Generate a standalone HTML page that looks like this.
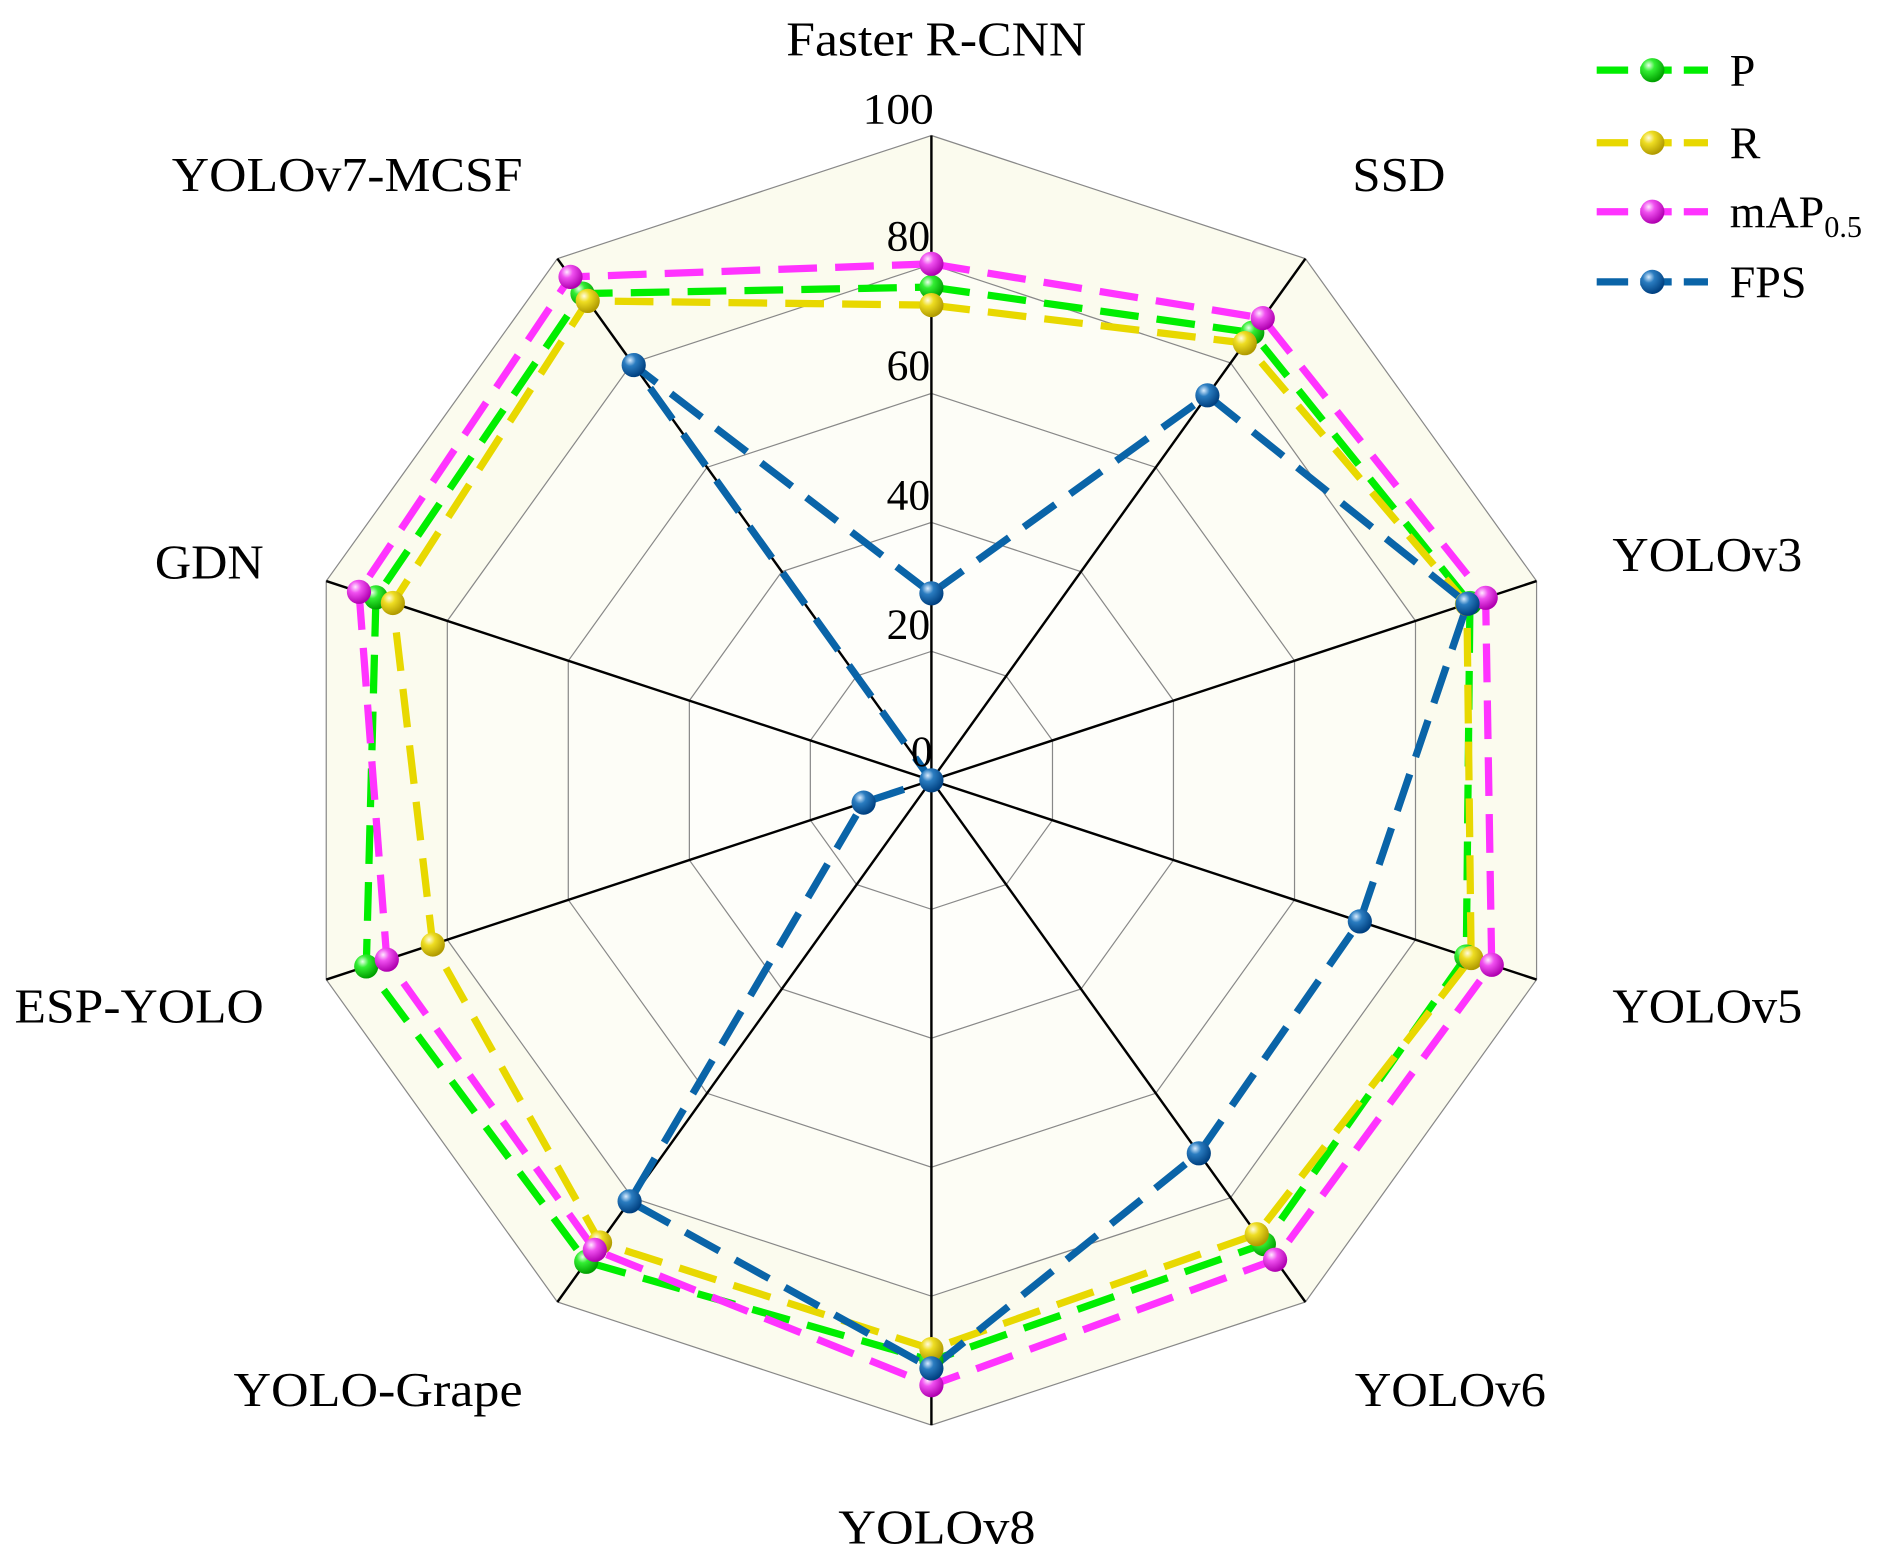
<!DOCTYPE html>
<html><head><meta charset="utf-8"><style>
html,body{margin:0;padding:0;background:#fff;}
svg{display:block;}
text{font-family:"Liberation Serif",serif;fill:#000;}
</style></head><body>
<svg id="s" width="1887" height="1557" viewBox="0 0 1560 1287" preserveAspectRatio="none" xmlns="http://www.w3.org/2000/svg">
<defs>
<radialGradient id="gP" cx="35%" cy="30%" r="70%"><stop offset="0" stop-color="#eaffea"/><stop offset="0.35" stop-color="#33ee33"/><stop offset="1" stop-color="#00a000"/></radialGradient>
<radialGradient id="gR" cx="35%" cy="30%" r="70%"><stop offset="0" stop-color="#fffbe0"/><stop offset="0.35" stop-color="#eedd22"/><stop offset="1" stop-color="#b09a00"/></radialGradient>
<radialGradient id="gM" cx="35%" cy="30%" r="70%"><stop offset="0" stop-color="#ffe8ff"/><stop offset="0.35" stop-color="#f050f0"/><stop offset="1" stop-color="#b000b0"/></radialGradient>
<radialGradient id="gF" cx="35%" cy="30%" r="70%"><stop offset="0" stop-color="#d8ecff"/><stop offset="0.35" stop-color="#2a7cc0"/><stop offset="1" stop-color="#004080"/></radialGradient>
</defs>
<g id="grid"></g>
<g id="series"></g>
<g id="labels" font-size="40">
<text x="650" y="46" textLength="248" lengthAdjust="spacingAndGlyphs">Faster R-CNN</text>
<text x="1118" y="158" textLength="77" lengthAdjust="spacingAndGlyphs">SSD</text>
<text x="1333" y="472" textLength="157" lengthAdjust="spacingAndGlyphs">YOLOv3</text>
<text x="1333" y="845" textLength="157" lengthAdjust="spacingAndGlyphs">YOLOv5</text>
<text x="1120" y="1162" textLength="158" lengthAdjust="spacingAndGlyphs">YOLOv6</text>
<text x="693" y="1276" textLength="163" lengthAdjust="spacingAndGlyphs">YOLOv8</text>
<text x="193" y="1162" textLength="239" lengthAdjust="spacingAndGlyphs">YOLO-Grape</text>
<text x="12" y="845" textLength="206" lengthAdjust="spacingAndGlyphs">ESP-YOLO</text>
<text x="128" y="478" textLength="90" lengthAdjust="spacingAndGlyphs">GDN</text>
<text x="142" y="158" textLength="290" lengthAdjust="spacingAndGlyphs">YOLOv7-MCSF</text>
</g>
<g font-size="36">
<text x="713" y="102" textLength="59" lengthAdjust="spacingAndGlyphs">100</text>
<text x="733" y="207">80</text>
<text x="733" y="314">60</text>
<text x="733" y="421">40</text>
<text x="733" y="528">20</text>
<text x="753" y="633">0</text>
</g>
<g id="legend"></g>
</svg>
<script>
var NS="http://www.w3.org/2000/svg";
var cx=770,cy=645,Rx=526,Ry=533;
function pt(i,v){var a=i*Math.PI/5;return [cx+Rx*Math.sin(a)*v/100, cy-Ry*Math.cos(a)*v/100];}
function el(n,at,p){var e=document.createElementNS(NS,n);for(var k in at)e.setAttribute(k,at[k]);document.getElementById(p).appendChild(e);return e;}
function poly(v){var s=[];for(var i=0;i<10;i++){var p=pt(i,v);s.push(p[0].toFixed(1)+","+p[1].toFixed(1));}return s.join(" ");}
el("polygon",{points:poly(100),fill:"#fbfbee",stroke:"none"},"grid");
el("polygon",{points:poly(80),fill:"#fdfdf5",stroke:"none"},"grid");
el("polygon",{points:poly(60),fill:"#fdfdf7",stroke:"none"},"grid");
el("polygon",{points:poly(40),fill:"#fefefa",stroke:"none"},"grid");
for(var r=20;r<=100;r+=20)el("polygon",{points:poly(r),fill:"none",stroke:"#888","stroke-width":1},"grid");
for(var i=0;i<10;i++){var p=pt(i,100);el("line",{x1:cx,y1:cy,x2:p[0],y2:p[1],stroke:"#000","stroke-width":2},"grid");}
var data=[
 ["#00ee00","gP",[76.5,85.8,89,88.4,88.9,90,92.3,93.4,91.8,93.3]],
 ["#e8d800","gR",[73.7,83.8,88.5,89.2,87,88.2,88.6,82.4,89,91.9]],
 ["#ff33ff","gM",[80.1,88.6,91.6,92.6,91.9,93.8,90,90,94.6,96.5]],
 ["#0a64a8","gF",[29,73.8,88.6,70.8,71.5,91.2,80.7,11.2,0,79.6]]];
data.forEach(function(d){
 var s=[];for(var i=0;i<10;i++){var p=pt(i,d[2][i]);s.push(p[0].toFixed(1)+","+p[1].toFixed(1));}
 el("polygon",{points:s.join(" "),fill:"none",stroke:d[0],"stroke-width":6,"stroke-dasharray":"32,15"},"series");
});
data.forEach(function(d){
 for(var i=0;i<10;i++){var p=pt(i,d[2][i]);el("circle",{cx:p[0],cy:p[1],r:10,fill:"url(#"+d[1]+")"},"series");}
});
var ly=[58,118,175,233],names=["P","R","mAP","FPS"];
data.forEach(function(d,k){
 el("line",{x1:1320,y1:ly[k],x2:1412,y2:ly[k],stroke:d[0],"stroke-width":6,"stroke-dasharray":"26,10"},"legend");
 el("circle",{cx:1366,cy:ly[k],r:10,fill:"url(#"+d[1]+")"},"legend");
 var t=el("text",{x:1430,y:ly[k]+13,"font-size":38},"legend");
 t.textContent=names[k];
 if(k==2){var ts=document.createElementNS(NS,"tspan");ts.setAttribute("font-size","25");ts.setAttribute("dy","8");ts.textContent="0.5";t.appendChild(ts);}
});
</script>
</body></html>
